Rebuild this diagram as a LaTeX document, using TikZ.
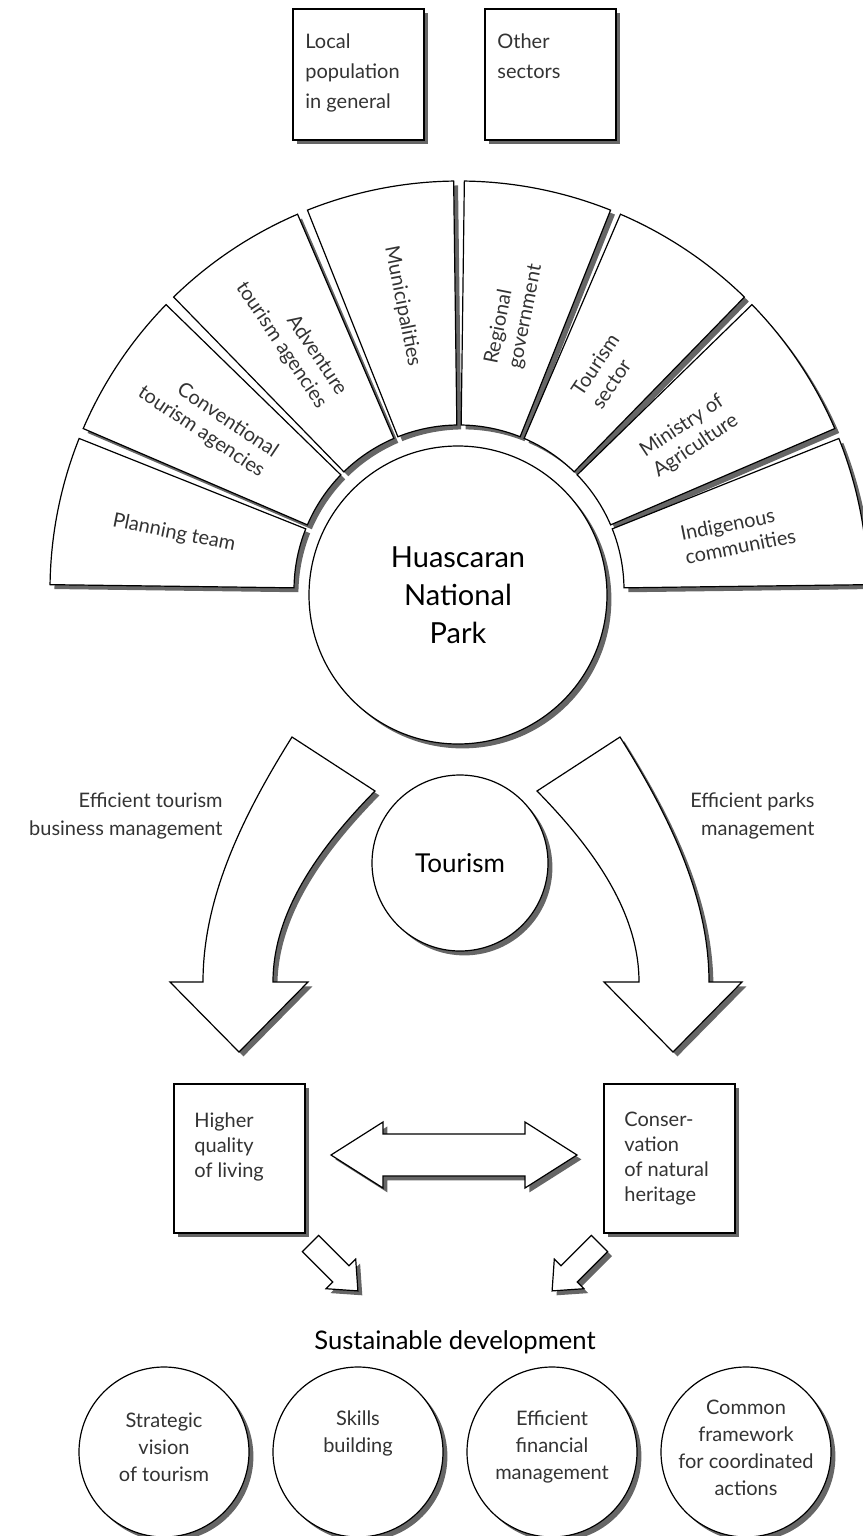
\documentclass[tikz,border=0pt]{standalone}
\usepackage{fontspec}
\setmainfont{Lato}
\usetikzlibrary{shadows}

% one piece of the fan: start angle, end angle
\newcommand\fanpiece[2]{\draw[piece] (#1:165) -- (#1:409) arc[start angle=#1, end angle=#2, radius=409] -- (#2:165) arc[start angle=#2, end angle=#1, radius=165] -- cycle; }

\begin{document}
\begin{tikzpicture}[x=0.5pt, y=-0.5pt,
    shadowed/.style={drop shadow={shadow xshift=2.2pt, shadow yshift=-2.2pt, fill=black!60, opacity=1}},
    piece/.style={draw, fill=white, line width=0.6pt, shadowed},
    plainbox/.style={piece, rectangle, inner sep=0pt},
    roundbox/.style={piece, circle, inner sep=0pt, align=center},
    piecetext/.style={inner sep=0pt, text=black!80, font=\fontsize{10}{12}\selectfont},
    boxtext/.style={inner sep=0pt, text=black!80, align=left, font=\fontsize{10}{15}\selectfont},
    lowtext/.style={inner sep=0pt, text=black!80, align=left, font=\fontsize{10}{12.5}\selectfont},
    sidetext/.style={inner sep=0pt, text=black!80, font=\fontsize{10}{14}\selectfont},
    roundtext/.style={inner sep=0pt, text=black!80, align=center, font=\fontsize{10}{13.5}\selectfont}]
    \useasboundingbox (0,0) rectangle (862,1536);

    % top boxes
    \node[plainbox, minimum width=65.5pt, minimum height=65.5pt] (local) at (358.5,74.5) {};
    \node[boxtext, anchor=north west] (localtext) at (305,33) {Local\\population\\in general};
    \node[plainbox, minimum width=65.5pt, minimum height=65.5pt] (other) at (550.5,74.5) {};
    \node[boxtext, anchor=north west] (othertext) at (497,33) {Other\\sectors};

    % fan of actors round the park
    \begin{scope}[shift={(459,590)}]
      \foreach \name [count=\i from 0] in {Planning team, {Conventional\\tourism agencies}, {Adventure\\tourism agencies}, Municipalities, {Regional\\government}, {Tourism\\sector}, {Ministry of\\Agriculture}, {Indigenous\\communities}} {
        \pgfmathsetmacro\sa{22.5*\i+0.75-180}
        \pgfmathsetmacro\ea{22.5*\i+21.75-180}
        \pgfmathsetmacro\ma{22.5*\i+11.25-180}
        \fanpiece{\sa}{\ea}
        \ifnum\i<4
          \pgfmathsetmacro\rot{-(22.5*\i+11.25)}
          \node[piecetext, align=right, rotate=\rot, anchor=east] (piece\i) at (\ma:228) {\name};
        \else
          \pgfmathsetmacro\rot{180-(22.5*\i+11.25)}
          \node[piecetext, align=left, rotate=\rot, anchor=west] (piece\i) at (\ma:228) {\name};
        \fi
      }
    \end{scope}

    % park
    \node[roundbox, minimum size=149pt, font=\fontsize{14.5}{19}\selectfont] (park) at (458,595) {Huascaran\\National\\Park};

    % left big arrow
    \draw[piece] (292,737) -- (375,791) .. controls (315,852) and (273,915) .. (273,982) -- (308,982) -- (239,1052) -- (170,982) -- (203,982) .. controls (203,900) and (240,820) .. (292,737) -- cycle;
    % right big arrow
    \draw[piece] (620,737) -- (537,791) .. controls (597,852) and (639,915) .. (639,982) -- (604,982) -- (673,1052) -- (742,982) -- (709,982) .. controls (709,900) and (672,820) .. (620,737) -- cycle;

    % tourism in the middle
    \node[roundbox, minimum size=88pt, font=\fontsize{13}{16}\selectfont] (tourism) at (460,863) {Tourism};

    % arrow labels
    \node[sidetext, align=right, anchor=east] (bizlabel) at (223,816) {Efficient tourism\\business management};
    \node[sidetext, align=right, anchor=east] (parklabel) at (815,816) {Efficient parks\\management};

    % lower boxes
    \node[plainbox, minimum width=65.5pt, minimum height=74.5pt] (living) at (239.5,1158.5) {};
    \node[lowtext, anchor=north west] (livingtext) at (194,1112) {Higher\\quality\\of living};
    \node[plainbox, minimum width=65.5pt, minimum height=74.5pt] (heritage) at (669.5,1158.5) {};
    \node[lowtext, anchor=north west] (heritagetext) at (624,1112) {Conser-\\vation\\of natural\\heritage};

    % double arrow between boxes
    \draw[piece] (331,1155) -- (383,1122) -- (383,1134) -- (525,1134) -- (525,1122) -- (577,1155) -- (525,1188) -- (525,1176) -- (383,1176) -- (383,1188) -- cycle;

    % small arrows down
    \draw[piece] (318.6,1235.4) -- (349,1265.8) -- (355.7,1259.1) -- (357.9,1290.9) -- (326.1,1288.7) -- (332.8,1282) -- (302.4,1251.6) -- cycle;
    \draw[piece] (591.4,1235.4) -- (561,1265.8) -- (554.3,1259.1) -- (552.1,1290.9) -- (583.9,1288.7) -- (577.2,1282) -- (607.6,1251.6) -- cycle;

    % sustainable development
    \node[inner sep=0pt, font=\fontsize{12.8}{15}\selectfont] (sustain) at (455,1342) {Sustainable development};

    % bottom circles
    \node[roundbox, minimum size=85pt] (vision) at (164,1452) {};
    \node[roundtext] (visiontext) at (164,1447) {Strategic\\vision\\of tourism};
    \node[roundbox, minimum size=85pt] (skills) at (358,1452) {};
    \node[roundtext] (skillstext) at (358,1433) {Skills\\building};
    \node[roundbox, minimum size=85pt] (finance) at (552,1452) {};
    \node[roundtext] (financetext) at (552,1447) {Efficient\\financial\\management};
    \node[roundbox, minimum size=85pt] (frame) at (746,1452) {};
    \node[roundtext] (frametext) at (746,1448) {Common\\framework\\for coordinated\\actions};
\end{tikzpicture}
\end{document}
